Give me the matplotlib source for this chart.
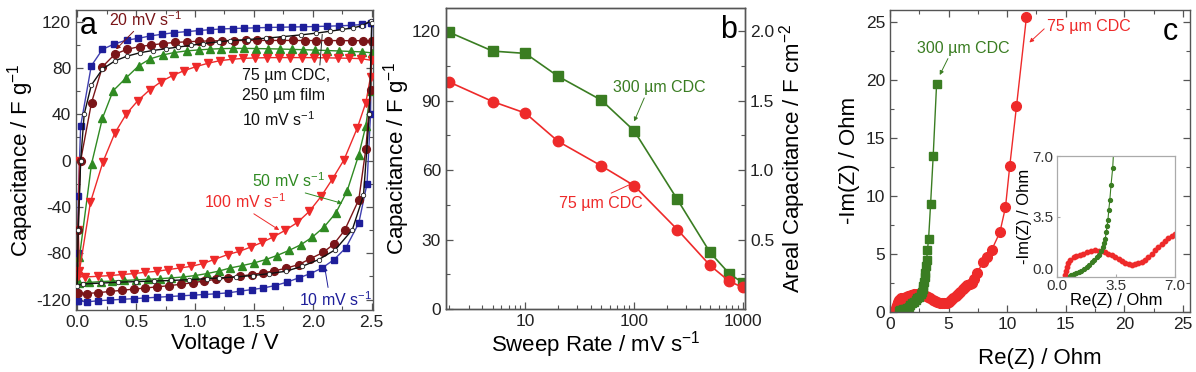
import matplotlib
matplotlib.use("Agg")
import matplotlib.pyplot as plt
from matplotlib.ticker import MultipleLocator, FixedLocator, NullFormatter, LogLocator

plt.rcParams['font.family'] = ['Liberation Sans', 'DejaVu Sans']
plt.rcParams['mathtext.fontset'] = 'custom'
plt.rcParams['mathtext.rm'] = 'Liberation Sans'
plt.rcParams['mathtext.it'] = 'Liberation Sans:italic'
plt.rcParams['axes.unicode_minus'] = False
plt.rcParams['xtick.direction'] = 'in'
plt.rcParams['ytick.direction'] = 'in'

# ---------------- panel a : cyclic voltammograms ----------------
v10 = [0.0, 0.005, 0.01, 0.03, 0.12, 0.215, 0.31, 0.42, 0.52, 0.62, 0.72, 0.82, 0.93, 1.03, 1.13,
       1.22, 1.32, 1.42, 1.52, 1.62, 1.72, 1.82, 1.92, 2.02, 2.12, 2.22, 2.32, 2.42, 2.49, 2.5,
       2.49, 2.46, 2.39, 2.28, 2.18, 2.08, 1.98, 1.88, 1.78, 1.68, 1.58, 1.48, 1.38, 1.28, 1.18,
       1.08, 0.98, 0.88, 0.78, 0.68, 0.58, 0.48, 0.38, 0.28, 0.18, 0.08, 0.01]
c10 = [-121, -80, -31, 30, 81.7, 96, 100.4, 104, 105.5, 107.6, 109, 110.4, 111.3, 112.2, 113,
       113.6, 114, 114.3, 114.6, 114.9, 115.1, 115.3, 115.5, 115.7, 116, 116.3, 116.7, 117.5, 119, 119,
       40, -20, -54, -75.4, -85.5, -92.7, -97.6, -101.3, -105, -107.9, -110, -111.4, -112.8, -114.2, -115,
       -115.6, -116.2, -116.8, -117.4, -118, -118.6, -119.2, -119.8, -120.4, -121, -122, -121]

v20 = [0.0, 0.005, 0.03, 0.122, 0.215, 0.32, 0.423, 0.53, 0.63, 0.73, 0.83, 0.93, 1.03, 1.13, 1.23,
       1.33, 1.43, 1.53, 1.63, 1.73, 1.83, 1.93, 2.03, 2.13, 2.23, 2.33, 2.43, 2.5,
       2.49, 2.45, 2.39, 2.27, 2.18, 2.09, 1.975, 1.88, 1.77, 1.67, 1.575, 1.48, 1.38, 1.28, 1.18,
       1.08, 0.98, 0.88, 0.78, 0.68, 0.58, 0.48, 0.38, 0.28, 0.18, 0.08, 0.01]
c20 = [-114, -60, 0, 50, 81, 91.8, 96, 98.4, 99.8, 101, 102, 102.5, 103, 103.3, 103.5,
       103.6, 103.7, 103.7, 103.7, 103.7, 103.7, 103.6, 103.6, 103.6, 103.5, 103.5, 103.5, 103,
       61, 10, -33.8, -60.2, -71.9, -79.2, -84.9, -89.8, -93, -95.3, -97, -98.4, -99.9, -101.3, -102.5,
       -104, -105.5, -106.8, -108, -109, -110, -111, -112, -113, -114, -114.8, -114]

v50 = [0.0, 0.02, 0.122, 0.215, 0.305, 0.418, 0.525, 0.62, 0.73, 0.82, 0.93, 1.03, 1.13, 1.22,
       1.32, 1.42, 1.52, 1.62, 1.72, 1.82, 1.92, 2.02, 2.12, 2.22, 2.32, 2.42, 2.5,
       2.49, 2.45, 2.39, 2.29, 2.195, 2.096, 1.997, 1.9, 1.8, 1.695, 1.6, 1.5, 1.4, 1.3, 1.2,
       1.1, 1.0, 0.9, 0.8, 0.7, 0.6, 0.5, 0.4, 0.3, 0.2, 0.1, 0.02]
c50 = [-105, -83, -3, 36.6, 60.2, 71.6, 82, 87.8, 91.2, 93.2, 94.7, 95.5, 96.2, 96.6,
       96.8, 96.8, 96.7, 96.5, 96.3, 96, 95.7, 95.4, 95, 94.6, 94.2, 93.8, 93,
       60, 30, 5, -26.6, -45.3, -57.3, -66, -72.6, -77.5, -82, -85.5, -88.4, -90.7, -92.7, -95.5,
       -97.6, -99.3, -100.5, -101.3, -102, -102.5, -103, -103.5, -104, -104.5, -105.2, -105.5]

v100 = [0.02, 0.01, 0.02, 0.113, 0.22, 0.32, 0.418, 0.516, 0.615, 0.714, 0.81, 0.91, 1.01, 1.11,
        1.21, 1.31, 1.41, 1.51, 1.61, 1.71, 1.81, 1.91, 2.01, 2.11, 2.21, 2.31, 2.41, 2.5,
        2.49, 2.45, 2.377, 2.265, 2.166, 2.07, 1.97, 1.87, 1.766, 1.664, 1.57, 1.475, 1.376, 1.277,
        1.16, 1.066, 0.97, 0.874, 0.775, 0.68, 0.58, 0.48, 0.38, 0.28, 0.18, 0.07, 0.01]
c100 = [0, -60, -95, -36, -1, 23.7, 40.3, 51.8, 61, 68.2, 73.4, 77.7, 81.1, 84,
        86.2, 87.4, 88.2, 88.6, 88.8, 88.9, 88.9, 88.9, 88.8, 88.7, 88.5, 88.3, 88, 86.5,
        72.5, 50, 28, 0.7, -16, -31, -43.9, -53.4, -60.2, -66, -70.6, -74.6, -78.4, -81.2,
        -85.5, -89, -91.3, -92.7, -94.1, -95.6, -96.4, -97.6, -98.4, -99.3, -99.9, -100.5, -100]

v_film = [0.0, 0.01, 0.03, 0.06, 0.12, 0.215, 0.32, 0.42, 0.53, 0.64, 0.75, 0.86, 0.97, 1.07, 1.2,
          1.3, 1.45, 1.6, 1.75, 1.9, 2.03, 2.15, 2.25, 2.34, 2.42, 2.49, 2.5,
          2.48, 2.43, 2.335, 2.19, 2.05, 1.91, 1.77, 1.63, 1.49, 1.35, 1.207, 1.1, 0.95, 0.8,
          0.65, 0.5, 0.35, 0.2, 0.05, 0.0]
c_film = [-108, -60, 0, 40, 65, 79, 86, 90, 93, 95, 96.5, 98, 99.5, 101, 102.5,
          103.5, 104.5, 105.6, 107, 108.5, 110, 111.7, 113.2, 114.5, 116.5, 120.5, 119,
          40, -30, -59.8, -77, -85.5, -91.3, -95.6, -97.6, -99.3, -100.4, -101.3, -102, -102.8, -103.5,
          -104, -104.5, -105, -105.8, -106.5, -108]

# ---------------- panel b : rate capability ----------------
sweep_rate = [2, 5, 10, 20, 50, 100, 250, 500, 750, 1000]
cap_300 = [119.5, 111.4, 110.4, 100.5, 90.2, 77, 47.3, 24.4, 15.3, 11.3]
cap_75 = [98, 89.6, 84.6, 72.4, 61.8, 53.3, 34.3, 18.8, 12, 9.3]

# ---------------- panel c : Nyquist plots ----------------
re_300 = [0.75, 0.85, 1.0, 1.15, 1.3, 1.45, 1.6, 1.75, 1.9, 2.05, 2.2, 2.35, 2.5, 2.62, 2.72, 2.8,
          2.86, 2.92, 2.97, 3.02, 3.07, 3.13, 3.2, 3.3, 3.47, 3.69, 3.98]
im_300 = [0.05, 0.12, 0.17, 0.22, 0.27, 0.35, 0.45, 0.58, 0.72, 0.86, 1.0, 1.15, 1.3, 1.5, 1.74, 1.98,
          2.22, 2.6, 2.98, 3.3, 3.9, 4.44, 5.3, 6.3, 9.3, 13.4, 19.6]
re_75 = [0.49, 0.52, 0.59, 0.68, 0.79, 0.98, 1.15, 1.34, 1.55, 1.78, 2.02, 2.27, 2.47, 2.66, 2.86,
         3.05, 3.25, 3.45, 3.65, 3.85, 4.05, 4.24, 4.44, 4.63, 4.83, 5.03, 5.22, 5.42, 5.62, 5.82,
         6.01, 6.21, 6.4, 6.6, 6.8, 7.0, 7.2, 7.45, 7.9, 8.3, 8.67, 9.38, 9.86, 10.23, 10.8, 11.65]
im_75 = [0.1, 0.35, 0.58, 0.8, 0.97, 1.16, 1.22, 1.26, 1.36, 1.45, 1.5, 1.55, 1.53, 1.49, 1.42,
         1.35, 1.26, 1.16, 1.05, 0.93, 0.83, 0.75, 0.72, 0.73, 0.79, 0.87, 1.0, 1.16, 1.35, 1.55,
         1.74, 1.93, 2.1, 2.28, 2.4, 2.51, 2.85, 3.3, 4.25, 4.75, 5.3, 6.84, 9.0, 12.6, 17.7, 25.4]

BLUE = '#1e1e9a'
MAROON = '#7a1518'
GREEN_A = '#2f8a22'
GREEN = '#3a7d22'
RED = '#ee2a2a'
FRAME = '#555555'
TICK = 12.5
LAB = 16
NOTE = 11.5


def style(ax, top=True, right=True):
    for s in ax.spines.values():
        s.set_color(FRAME)
        s.set_linewidth(1.0)
    ax.tick_params(which='both', top=top, right=right, colors=FRAME, labelcolor='#222222',
                   labelsize=TICK)
    ax.tick_params(which='major', length=5, width=0.9)
    ax.tick_params(which='minor', length=3, width=0.8)


fig = plt.figure(figsize=(11.96, 3.72), dpi=100)

# panel a
ax1 = fig.add_axes([0.0635, 0.1667, 0.2483, 0.8065])
ax1.plot(v_film, c_film, '-', color='#111111', lw=1.0, marker='o', ms=3.2,
         mfc='white', mec='#222222', mew=0.6, zorder=5)
ax1.plot(v10, c10, '-', color='#4040b0', lw=1.0, marker='s', ms=4.8, mfc=BLUE, mec=BLUE, zorder=3)
ax1.plot(v20, c20, '-', color=MAROON, lw=1.0, marker='o', ms=5.6, mfc=MAROON, mec=MAROON, zorder=4)
ax1.plot(v50, c50, '-', color=GREEN_A, lw=1.0, marker='^', ms=5.5, mfc=GREEN_A, mec=GREEN_A, zorder=3)
ax1.plot(v100, c100, '-', color=RED, lw=1.0, marker='v', ms=5.5, mfc=RED, mec=RED, zorder=3)
ax1.set_xlim(-0.01, 2.51)
ax1.set_ylim(-129, 130)
ax1.xaxis.set_major_locator(MultipleLocator(0.5))
ax1.xaxis.set_minor_locator(MultipleLocator(0.25))
ax1.yaxis.set_major_locator(MultipleLocator(40))
ax1.yaxis.set_minor_locator(MultipleLocator(20))
ax1.xaxis.set_major_formatter(plt.FuncFormatter(lambda x, p: f'{x:.1f}'))
style(ax1)
ax1.set_xlabel('Voltage / V', fontsize=LAB, labelpad=2)
ax1.set_ylabel('Capacitance / F g$^{-1}$', fontsize=LAB, labelpad=0)
ax1.text(0.013, 0.945, 'a', transform=ax1.transAxes, fontsize=22, va='center', ha='left')

arrow = dict(arrowstyle='-|>', lw=0.7, mutation_scale=6, shrinkA=0, shrinkB=0)
ax1.annotate('20 mV s$^{-1}$', xy=(0.33, 96), xytext=(0.27, 122), color=MAROON, fontsize=NOTE,
             va='center', ha='left', arrowprops=dict(arrow, color=MAROON))
ax1.annotate('75 \u00b5m CDC,\n250 \u00b5m film\n10 mV s$^{-1}$', xy=(2.08, 109), xytext=(1.40, 80),
             color='#111111', fontsize=NOTE, va='top', ha='left', linespacing=1.45,
             arrowprops=dict(arrowstyle='-', lw=0.7, color='#222222', shrinkA=0, shrinkB=0,
                             relpos=(0.88, 1.0)))
ax1.annotate('50 mV s$^{-1}$', xy=(2.25, -37), xytext=(1.48, -17.5), color=GREEN_A, fontsize=NOTE,
             va='center', ha='left', arrowprops=dict(arrow, color=GREEN_A, relpos=(0.6, 0.0)))
ax1.annotate('100 mV s$^{-1}$', xy=(1.715, -60), xytext=(1.08, -35.5), color=RED, fontsize=NOTE,
             va='center', ha='left', arrowprops=dict(arrow, color=RED, relpos=(0.55, 0.0)))
ax1.annotate('10 mV s$^{-1}$', xy=(2.1, -91.5), xytext=(1.885, -120), color=BLUE, fontsize=NOTE,
             va='center', ha='left', arrowprops=dict(arrow, color=BLUE, relpos=(0.4, 1.0)))

# panel b
ax2 = fig.add_axes([0.3727, 0.1694, 0.2503, 0.809])
ax2.plot(sweep_rate, cap_300, '-', color=GREEN, lw=1.2, marker='s', ms=6.5, mfc=GREEN, mec=GREEN)
ax2.plot(sweep_rate, cap_75, '-', color=RED, lw=1.2, marker='o', ms=7.5, mfc=RED, mec=RED)
ax2.set_xscale('log')
ax2.set_xlim(1.85, 1050)
ax2.set_ylim(0, 130)
ax2.xaxis.set_major_locator(FixedLocator([10, 100, 1000]))
ax2.xaxis.set_major_formatter(plt.FuncFormatter(lambda x, p: f'{x:g}'))
ax2.xaxis.set_minor_locator(LogLocator(base=10, subs=range(2, 10)))
ax2.xaxis.set_minor_formatter(NullFormatter())
ax2.yaxis.set_major_locator(MultipleLocator(30))
ax2.yaxis.set_minor_locator(MultipleLocator(15))
style(ax2, top=False, right=False)
ax2.set_xlabel('Sweep Rate / mV s$^{-1}$', fontsize=LAB, labelpad=0)
ax2.set_ylabel('Capacitance / F g$^{-1}$', fontsize=LAB, labelpad=0)
ax2.text(0.973, 0.927, 'b', transform=ax2.transAxes, fontsize=22, va='center', ha='right')
ax2.annotate('300 \u00b5m CDC', xy=(100, 81), xytext=(64, 95.6), color=GREEN, fontsize=NOTE,
             va='center', ha='left', arrowprops=dict(arrow, color=GREEN, relpos=(0.35, 0.0)))
ax2.annotate('75 \u00b5m CDC', xy=(99, 54.5), xytext=(20.4, 45.6), color=RED, fontsize=NOTE,
             va='center', ha='left', arrowprops=dict(arrow, color=RED, relpos=(0.55, 1.0)))

ax2r = ax2.twinx()
ax2r.set_ylim(0, 130 / 60)
ax2r.yaxis.set_major_locator(FixedLocator([0.5, 1.0, 1.5, 2.0]))
ax2r.yaxis.set_minor_locator(MultipleLocator(0.25))
ax2r.yaxis.set_major_formatter(plt.FuncFormatter(lambda x, p: f'{x:.1f}'))
style(ax2r, top=False, right=True)
ax2r.tick_params(which='both', left=False)
ax2r.set_ylabel('Areal Capacitance / F cm$^{-2}$', fontsize=LAB, labelpad=2)

# panel c
ax3 = fig.add_axes([0.7441, 0.162, 0.2508, 0.811])
ax3.plot(re_75, im_75, '-', color=RED, lw=1.0, marker='o', ms=7.0, mfc=RED, mec=RED)
ax3.plot(re_300, im_300, '-', color=GREEN, lw=1.0, marker='s', ms=6.0, mfc=GREEN, mec=GREEN)
ax3.set_xlim(0, 25.6)
ax3.set_ylim(0, 26)
for axis in (ax3.xaxis, ax3.yaxis):
    axis.set_major_locator(MultipleLocator(5))
    axis.set_minor_locator(MultipleLocator(2.5))
style(ax3)
ax3.set_xlabel('Re(Z) / Ohm', fontsize=LAB, labelpad=12)
ax3.set_ylabel('-Im(Z) / Ohm', fontsize=LAB, labelpad=4)
ax3.text(0.96, 0.928, 'c', transform=ax3.transAxes, fontsize=22, va='center', ha='right')
ax3.annotate('300 \u00b5m CDC', xy=(4.25, 20.4), xytext=(2.3, 22.7), color=GREEN, fontsize=NOTE,
             va='center', ha='left', arrowprops=dict(arrow, color=GREEN, relpos=(0.35, 0.0)))
ax3.annotate('75 \u00b5m CDC', xy=(11.9, 23.2), xytext=(13.4, 24.6), color=RED, fontsize=NOTE,
             va='center', ha='left', arrowprops=dict(arrow, color=RED, relpos=(0.0, 0.5)))

# inset
axi = fig.add_axes([0.8838, 0.2554, 0.0987, 0.325])
axi.plot(re_75, im_75, '-', color=RED, lw=0.8, marker='o', ms=3.2, mfc=RED, mec=RED)
axi.plot(re_300, im_300, '-', color=GREEN, lw=0.8, marker='o', ms=2.8, mfc=GREEN, mec=GREEN)
axi.set_xlim(0, 7)
axi.set_ylim(0, 7)
for axis in (axi.xaxis, axi.yaxis):
    axis.set_major_locator(FixedLocator([0.0, 3.5, 7.0]))
    axis.set_major_formatter(plt.FuncFormatter(lambda x, p: f'{x:.1f}'))
for s in axi.spines.values():
    s.set_color('#aaaaaa')
    s.set_linewidth(0.9)
axi.tick_params(which='both', length=2.5, colors='#aaaaaa', labelcolor='#333333', labelsize=11)
axi.tick_params(axis='x', pad=1.5)
axi.tick_params(axis='y', pad=2.5)
# lift the lowest y label a little so it does not sit on the x "0.0"
axi.get_yticklabels()[0].set_verticalalignment('bottom')
axi.set_xlabel('Re(Z) / Ohm', fontsize=12, labelpad=0)
axi.set_ylabel('-Im(Z) / Ohm', fontsize=12, labelpad=0)

fig.savefig('out.png', dpi=100)
